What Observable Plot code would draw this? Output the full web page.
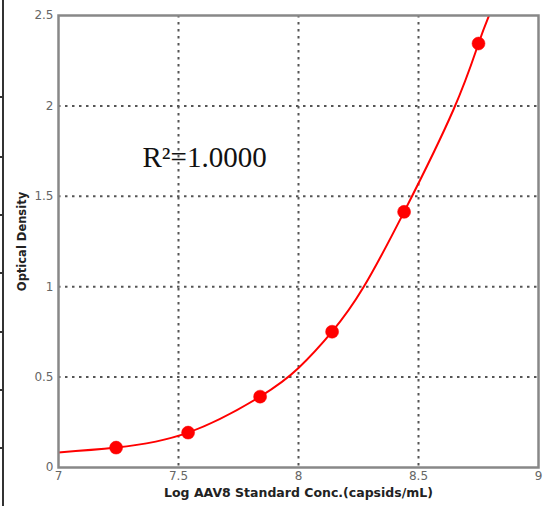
<!DOCTYPE html>
<html>
<head>
<meta charset="utf-8">
<script src="https://cdn.jsdelivr.net/npm/d3@7"></script>
<script src="https://cdn.jsdelivr.net/npm/@observablehq/plot@0.6"></script>
<style>
  html, body { margin: 0; padding: 0; background: #fff; }
  #wrap { position: relative; width: 545px; height: 506px; overflow: hidden; }
  #edge { position: absolute; left: 2px; top: 0; width: 2px; height: 506px; background: #333; }
  .tk { position: absolute; left: 0; width: 3px; height: 2px; background: #333; }
  #chart { position: absolute; left: 0; top: 0; }
</style>
</head>
<body>
<div id="wrap">
  <div id="chart"></div>
  <div id="edge"></div>
</div>
<script>
// Standard points (log concentration, optical density)
const logConc = [7.24, 7.54, 7.84, 8.14, 8.44, 8.75];
const od      = [0.11, 0.193, 0.392, 0.751, 1.414, 2.345];

// Fitted curve
const curveX = [7.0, 7.24, 7.54, 7.84, 8.0, 8.14, 8.27, 8.44, 8.646, 8.75, 8.80];
const curveY = [0.083, 0.11, 0.193, 0.392, 0.55, 0.751, 0.995, 1.414, 1.98, 2.345, 2.52];

const xTicks = [7, 7.5, 8, 8.5, 9];
const yTicks = [0, 0.5, 1, 1.5, 2, 2.5];
const xLabel = "Log AAV8 Standard Conc.(capsids/mL)";
const yLabel = "Optical Density";
const rLabel = "R\u00B2=1.0000";

// left table-edge ticks (decoration from the screenshot)
const edgeTicks = [97, 157, 215, 273, 332, 390, 448];

const points = logConc.map((x, i) => ({x, y: od[i]}));
const curve = curveX.map((x, i) => ({x, y: curveY[i]}));

const fmt = d => String(d);
const sans = "'DejaVu Sans', Verdana, sans-serif";

const chart = Plot.plot({
  width: 545,
  height: 506,
  marginLeft: 58,
  marginRight: 7,
  marginTop: 15,
  marginBottom: 39,
  style: { fontFamily: sans, fontSize: "12px", background: "#fff" },
  x: { domain: [7, 9] },
  y: { domain: [0, 2.5] },
  marks: [
    Plot.gridX(xTicks.slice(1, -1), { stroke: "#555", strokeOpacity: 1, strokeWidth: 2, strokeDasharray: "2.5,4.5" }),
    Plot.gridY(yTicks.slice(1, -1), { stroke: "#555", strokeOpacity: 1, strokeWidth: 2, strokeDasharray: "2.5,4.5" }),
    Plot.line(curve, { x: "x", y: "y", stroke: "#f00", strokeWidth: 2, curve: "natural", clip: true }),
    Plot.dot(points, { x: "x", y: "y", r: 6.5, fill: "#f00", stroke: "#f00", strokeWidth: 0.5 }),
    Plot.frame({ stroke: "#888", strokeWidth: 2.5 }),
    Plot.axisX({ ticks: xTicks, tickFormat: fmt, tickSize: 0, tickPadding: 4, fill: "#666", label: null }),
    Plot.axisY({ ticks: yTicks, tickFormat: fmt, tickSize: 0, tickPadding: 5, fill: "#666", label: null }),
    Plot.text([xLabel], { frameAnchor: "bottom", dy: 29, textAnchor: "middle", fontWeight: "bold", fontSize: 12.5, fill: "#222" }),
    Plot.text([yLabel], { frameAnchor: "left", dx: -36, rotate: -90, textAnchor: "middle", fontWeight: "bold", fontSize: 11.5, fill: "#222" }),
    Plot.text([rLabel], { frameAnchor: "top-left", dx: 84, dy: 131, textAnchor: "start", fontFamily: "'Liberation Serif', 'Times New Roman', serif", fontSize: 29, fill: "#111" })
  ]
});
document.getElementById("chart").appendChild(chart);

const wrap = document.getElementById("wrap");
edgeTicks.forEach(t => {
  const d = document.createElement("div");
  d.className = "tk";
  d.style.top = (t - 1) + "px";
  wrap.appendChild(d);
});
</script>
</body>
</html>
